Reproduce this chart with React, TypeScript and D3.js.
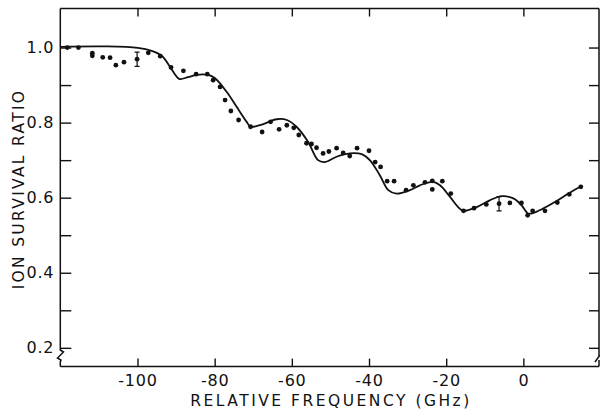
import React, { useEffect, useRef } from "react";
import * as d3 from "d3";

// measured points (GHz, survival ratio)
const pointFreq = [
  -118.2, -115.3, -111.7, -111.7, -109.0, -107.1, -105.6, -103.5, -100.1, -97.2,
  -94.1, -91.3, -88.1, -84.8, -81.9, -80.4, -78.6, -77.3, -75.8, -73.8,
  -70.7, -67.7, -65.5, -63.3, -61.3, -59.5, -58.2, -56.2, -54.9, -53.6,
  -51.9, -50.4, -48.4, -46.7, -45.0, -43.1, -40.0, -38.4, -37.0, -35.3,
  -33.5, -30.4, -28.5, -25.5, -23.6, -23.6, -21.0, -18.8, -15.5, -12.8,
  -9.6, -6.3, -3.5, -0.5, 1.1, 2.4, 5.6, 8.8, 11.9, 14.9,
];
const pointRatio = [
  1.0, 1.0, 0.985, 0.978, 0.974, 0.973, 0.953, 0.961, 0.969, 0.986,
  0.977, 0.947, 0.938, 0.929, 0.929, 0.913, 0.895, 0.86, 0.831, 0.807,
  0.789, 0.775, 0.802, 0.782, 0.793, 0.786, 0.767, 0.745, 0.743, 0.733,
  0.718, 0.723, 0.732, 0.719, 0.711, 0.732, 0.725, 0.695, 0.682, 0.644,
  0.644, 0.62, 0.633, 0.641, 0.645, 0.622, 0.644, 0.611, 0.565, 0.572,
  0.582, 0.584, 0.586, 0.586, 0.553, 0.565, 0.565, 0.587, 0.609, 0.629,
];

// error bars
const errFreq = [-100.1, -6.3];
const errRatio = [0.969, 0.584];
const errSize = [0.019, 0.019];

// calculated curve
const curveFreq = [
  -120, -108.4, -99.9, -96.3, -93.7, -91.6, -89.8, -89.0, -86.9, -84.7,
  -81.7, -79.9, -76.9, -74.3, -71.7, -70.7, -68.3, -63.9, -61.3, -58.8,
  -55.8, -53.2, -51.4, -48.4, -45.0, -41.9, -39.8, -37.2, -35.0, -32.9,
  -29.4, -26.8, -23.4, -21.6, -19.0, -16.9, -15.6, -12.1, -8.7, -5.6,
  -2.6, -0.5, 1.2, 2.5, 5.1, 8.6, 12.0, 15.1,
];
const curveRatio = [
  1.002, 1.003, 0.999, 0.991, 0.978, 0.949, 0.922, 0.916, 0.921, 0.927,
  0.927, 0.918, 0.882, 0.842, 0.802, 0.789, 0.793, 0.809, 0.807, 0.789,
  0.749, 0.7, 0.695, 0.709, 0.718, 0.716, 0.7, 0.66, 0.62, 0.611,
  0.62, 0.633, 0.642, 0.633, 0.602, 0.575, 0.565, 0.575, 0.593, 0.604,
  0.598, 0.58, 0.558, 0.559, 0.571, 0.591, 0.613, 0.631,
];

const xTicks = [-100, -80, -60, -40, -20, 0];
const yTicks = [0.2, 0.3, 0.4, 0.5, 0.6, 0.7, 0.8, 0.9, 1.0];
const yLabels = [0.2, 0.4, 0.6, 0.8, 1.0];

const FONT = "'DejaVu Sans', sans-serif";

const App = () => {
  const svgRef = useRef<SVGSVGElement>(null);

  useEffect(() => {
    const width = 600;
    const height = 411;
    const svg = d3.select(svgRef.current);
    svg.selectAll("*").remove();

    const x = d3.scaleLinear().domain([-120, 19.6]).range([60.3, 599]);
    const y = d3.scaleLinear().domain([0.15, 1.104]).range([366.6, 8.5]);

    const [x0, x1] = x.range();
    const [yb, yt] = y.range();

    const g = svg.append("g");

    // frame, with breaks near the bottom of both side axes
    const frame = d3.path();
    frame.moveTo(x0, yt);
    frame.lineTo(x1, yt);
    frame.moveTo(x0, yb);
    frame.lineTo(x1, yb);
    frame.moveTo(x0, yt);
    frame.lineTo(x0, 350);
    frame.lineTo(63.5, 352);
    frame.lineTo(57.5, 358);
    frame.lineTo(61, 360);
    frame.lineTo(x0, 362);
    frame.lineTo(x0, yb);
    frame.moveTo(x1, yt);
    frame.lineTo(x1, 356);
    frame.moveTo(x1 + 1, 355);
    frame.lineTo(x1 - 4, 362);
    frame.moveTo(x1, 360);
    frame.lineTo(x1, yb);
    g.append("path")
      .attr("d", frame.toString())
      .attr("fill", "none")
      .attr("stroke", "#111")
      .attr("stroke-width", 1.5);

    const styleAxis = (sel: any) => {
      sel.select(".domain").remove();
      sel.selectAll("line").attr("stroke", "#111").attr("stroke-width", 1.4);
      sel
        .selectAll("text")
        .attr("fill", "#111")
        .style("font-family", FONT)
        .style("font-size", "16px")
        .style("letter-spacing", "0.8px");
    };

    // left axis
    g.append("g")
      .attr("transform", `translate(${x0},0)`)
      .call(
        d3
          .axisLeft(y)
          .tickValues(yTicks)
          .tickSizeInner(-11)
          .tickSizeOuter(0)
          .tickPadding(6)
          .tickFormat((d: any) => (yLabels.some((v) => Math.abs(v - d) < 1e-6) ? d3.format(".1f")(d) : ""))
      )
      .call(styleAxis);

    // right axis
    g.append("g")
      .attr("transform", `translate(${x1},0)`)
      .call(d3.axisLeft(y).tickValues(yTicks).tickSize(10).tickFormat(() => ""))
      .call(styleAxis);

    // bottom axis
    g.append("g")
      .attr("transform", `translate(0,${yb})`)
      .call(
        d3
          .axisBottom(x)
          .tickValues(xTicks)
          .tickSizeInner(-8)
          .tickSizeOuter(0)
          .tickPadding(8)
          .tickFormat((d: any) => String(d))
      )
      .call(styleAxis);

    // top axis
    g.append("g")
      .attr("transform", `translate(0,${yt})`)
      .call(d3.axisTop(x).tickValues(xTicks).tickSize(-8).tickFormat(() => ""))
      .call(styleAxis);

    // axis titles
    g.append("text")
      .attr("x", 331)
      .attr("y", 406)
      .attr("text-anchor", "middle")
      .attr("fill", "#111")
      .style("font-family", FONT)
      .style("font-size", "15.5px")
      .style("letter-spacing", "2.5px")
      .text("RELATIVE FREQUENCY (GHz)");

    g.append("text")
      .attr("transform", "translate(24,189) rotate(-90)")
      .attr("text-anchor", "middle")
      .attr("fill", "#111")
      .style("font-family", FONT)
      .style("font-size", "15.5px")
      .style("letter-spacing", "2.3px")
      .text("ION SURVIVAL RATIO");

    // calculated curve
    const line = d3
      .line<number>()
      .x((d, i) => x(curveFreq[i]))
      .y((d) => y(d))
      .curve(d3.curveCatmullRom.alpha(0.5));
    g.append("path")
      .datum(curveRatio)
      .attr("d", line)
      .attr("fill", "none")
      .attr("stroke", "#111")
      .attr("stroke-width", 1.8);

    // error bars
    errFreq.forEach((f, i) => {
      const cx = x(f);
      const top = y(errRatio[i] + errSize[i]);
      const bot = y(errRatio[i] - errSize[i]);
      const p = d3.path();
      p.moveTo(cx, top);
      p.lineTo(cx, bot);
      p.moveTo(cx - 2.5, top);
      p.lineTo(cx + 2.5, top);
      p.moveTo(cx - 2.5, bot);
      p.lineTo(cx + 2.5, bot);
      g.append("path")
        .attr("d", p.toString())
        .attr("stroke", "#111")
        .attr("stroke-width", 1.2)
        .attr("fill", "none");
    });

    // data points
    g.selectAll(".pt")
      .data(pointRatio)
      .enter()
      .append("circle")
      .attr("class", "pt")
      .attr("cx", (d, i) => x(pointFreq[i]))
      .attr("cy", (d) => y(d))
      .attr("r", 2.4)
      .attr("fill", "#111");

    svg.attr("width", width).attr("height", height);
  }, []);

  return (
    <svg
      ref={svgRef}
      width={600}
      height={411}
      style={{ position: "absolute", left: 0, top: 0, background: "#fff" }}
    ></svg>
  );
};

export default App;
